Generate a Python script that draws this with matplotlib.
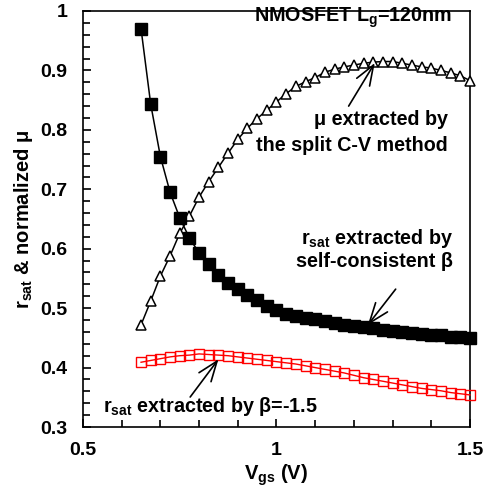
import numpy as np
import matplotlib
matplotlib.use('Agg')
import matplotlib.pyplot as plt
from matplotlib.ticker import MultipleLocator

plt.rcParams['font.family'] = ['Liberation Sans', 'DejaVu Sans']
plt.rcParams['font.weight'] = 'bold'
plt.rcParams['mathtext.fontset'] = 'custom'
plt.rcParams['mathtext.rm'] = 'Liberation Sans:bold'
plt.rcParams['mathtext.it'] = 'Liberation Sans:bold'
plt.rcParams['mathtext.bf'] = 'Liberation Sans:bold'

# Vgs sweep (V)
vgs = [0.65, 0.675, 0.70, 0.725, 0.75, 0.775, 0.80, 0.825, 0.85, 0.875,
       0.90, 0.925, 0.95, 0.975, 1.0, 1.025, 1.05, 1.075, 1.1, 1.125,
       1.15, 1.175, 1.2, 1.225, 1.25, 1.275, 1.3, 1.325, 1.35, 1.375,
       1.4, 1.425, 1.45, 1.475, 1.5]

# rsat, self-consistent beta
rsat_sc = [0.970, 0.843, 0.755, 0.695, 0.652, 0.618, 0.593, 0.574, 0.556, 0.542,
           0.532, 0.522, 0.514, 0.504, 0.497, 0.491, 0.487, 0.484, 0.481, 0.478,
           0.475, 0.472, 0.470, 0.468, 0.466, 0.464, 0.462, 0.460, 0.458, 0.457,
           0.455, 0.454, 0.452, 0.451, 0.450]

# normalized mobility, split C-V
mu_norm = [0.472, 0.512, 0.554, 0.588, 0.626, 0.655, 0.687, 0.713, 0.737, 0.761,
           0.784, 0.803, 0.819, 0.833, 0.847, 0.861, 0.873, 0.881, 0.888, 0.897,
           0.902, 0.906, 0.909, 0.912, 0.914, 0.915, 0.915, 0.912, 0.909, 0.906,
           0.904, 0.900, 0.896, 0.891, 0.883]

# rsat, beta = -1.5
rsat_b15 = [0.409, 0.412, 0.415, 0.418, 0.420, 0.421, 0.423, 0.422, 0.421, 0.420,
            0.418, 0.416, 0.414, 0.412, 0.410, 0.408, 0.406, 0.403, 0.400, 0.397,
            0.394, 0.391, 0.387, 0.383, 0.380, 0.377, 0.374, 0.371, 0.368, 0.365,
            0.363, 0.361, 0.358, 0.356, 0.354]

fig = plt.figure(figsize=(4.84, 4.91), dpi=100)
ax = fig.add_axes([0.1715, 0.1303, 0.7995, 0.8473])

ax.plot(vgs, rsat_b15, color='red', lw=1.0, marker='s', ms=7,
        mfc='none', mec='red', mew=1.0, clip_on=False, zorder=3)
ax.plot(vgs, mu_norm, color='black', lw=1.1, marker='^', ms=7,
        mfc='white', mec='black', mew=1.1, clip_on=False, zorder=4)
ax.plot(vgs, rsat_sc, color='black', lw=1.1, marker='s', ms=8,
        mfc='black', mec='black', clip_on=False, zorder=5)

ax.set_xlim(0.5, 1.5)
ax.set_ylim(0.3, 1.0)
ax.xaxis.set_minor_locator(MultipleLocator(0.1))
ax.yaxis.set_minor_locator(MultipleLocator(0.02))
ax.set_xticks([0.5, 1.0, 1.5])
ax.set_xticklabels(['0.5', '1', '1.5'])
ax.set_yticks([0.3, 0.4, 0.5, 0.6, 0.7, 0.8, 0.9, 1.0])
ax.set_yticklabels(['0.3', '0.4', '0.5', '0.6', '0.7', '0.8', '0.9', '1'])
ax.tick_params(which='both', direction='in', top=False, right=False,
               labelsize=14, pad=11, width=1.2)
ax.tick_params(which='major', length=6)
ax.tick_params(which='minor', length=5)
for s in ax.spines.values():
    s.set_linewidth(1.2)

ax.set_xlabel('V$_{gs}$ (V)', fontsize=14.5, fontweight='bold', labelpad=2)
ax.set_ylabel('r$_{sat}$ & normalized \u03bc', fontsize=14.5, fontweight='bold', labelpad=4)

fs = 14.2
ax.text(1.453, 0.988, 'NMOSFET L$_g$=120nm', fontsize=fs, ha='right', va='center')
ax.text(1.443, 0.8166, '\u03bc extracted by', fontsize=fs, ha='right', va='center')
ax.text(1.443, 0.7745, 'the split C-V method', fontsize=fs, ha='right', va='center')
ax.text(1.457, 0.618, 'r$_{sat}$ extracted by', fontsize=fs, ha='right', va='center')
ax.text(1.457, 0.5777, 'self-consistent \u03b2', fontsize=fs, ha='right', va='center')
ax.text(0.552, 0.3337, 'r$_{sat}$ extracted by \u03b2=-1.5', fontsize=fs, ha='left', va='center')

arrow = dict(arrowstyle='->,head_length=0.8,head_width=0.3', lw=1.2,
             color='black', mutation_scale=18, shrinkA=0, shrinkB=0)
ax.annotate('', xy=(1.254, 0.9125), xytext=(1.1865, 0.840), arrowprops=arrow, zorder=6)
ax.annotate('', xy=(1.236, 0.4717), xytext=(1.308, 0.532), arrowprops=arrow, zorder=6)
ax.annotate('', xy=(0.85, 0.414), xytext=(0.777, 0.3505), arrowprops=arrow, zorder=6)

fig.savefig('out.png', dpi=100)
